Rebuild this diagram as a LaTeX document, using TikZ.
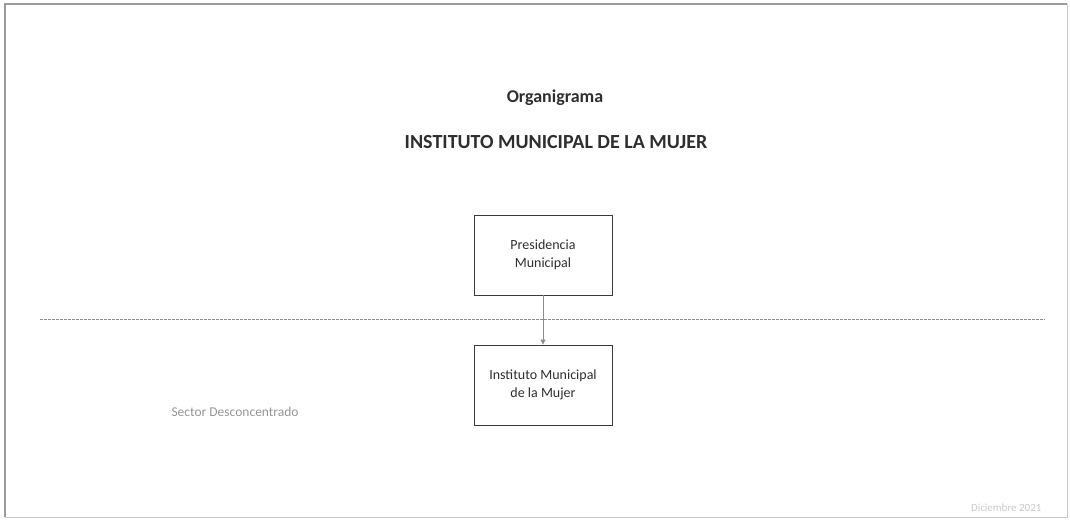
\documentclass[tikz,border=0pt]{standalone}
\usepackage{fontspec}
\setmainfont{Carlito}
\usetikzlibrary{arrows.meta}
\definecolor{ink}{HTML}{2E2E2E}
\definecolor{boxline}{HTML}{3A3A3A}
\definecolor{frame}{HTML}{9A9A9A}
\definecolor{faint}{HTML}{8C8C8C}
\definecolor{veryfaint}{HTML}{C8C8C8}
\tikzset{
  orgbox/.style={draw=boxline, line width=0.9pt, minimum width=138pt, minimum height=80pt,
    align=center, font=\fontsize{14}{18}\selectfont, text=ink, inner sep=0pt},
  titletext/.style={font=\bfseries\fontsize{18}{21}\selectfont, text=ink},
  link/.style={draw=faint, line width=0.8pt, -{Triangle[length=5pt,width=5pt]}},
}
\begin{document}
\begin{tikzpicture}[x=1pt,y=-1pt]
\useasboundingbox (0,0) rectangle (1070,520);
\draw[frame, line width=1.2pt] (5,517) -- (5,4) -- (1067,4);
\draw[veryfaint, line width=0.8pt] (5,517) -- (1067,517) -- (1067,4);
\node[titletext] (t1) at (555,98) {Organigrama};
\node[titletext, font=\bfseries\fontsize{20}{23}\selectfont] (t2) at (556,142) {INSTITUTO MUNICIPAL DE LA MUJER};
\node[orgbox] (pm) at (543,255) {Presidencia\\Municipal};
\node[orgbox] (imm) at (543,385) {Instituto Municipal\\de la Mujer};
\coordinate (dl) at (40,319);
\coordinate (dr) at (1045,319);
\draw[faint, line width=0.8pt, dash pattern=on 2.5pt off 1.5pt] (dl) -- (dr);
\draw[link] (pm) -- (imm);
\node[font=\fontsize{13.5}{15}\selectfont, text=veryfaint!75!black, anchor=west] (sd) at (168,412) {Sector Desconcentrado};
\node[font=\fontsize{11}{13}\selectfont, text=veryfaint, anchor=east] (fd) at (1045,508) {Diciembre 2021};
\end{tikzpicture}
\end{document}
